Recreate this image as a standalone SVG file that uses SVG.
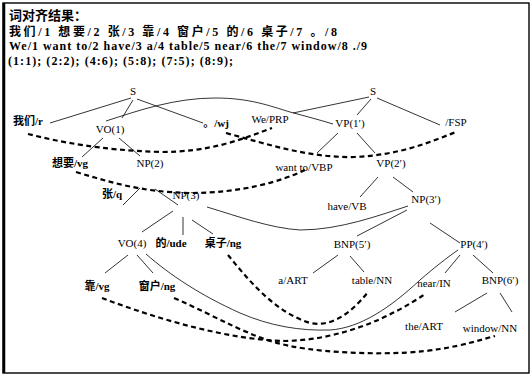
<svg xmlns="http://www.w3.org/2000/svg" width="532" height="376" viewBox="0 0 532 376">
<style>
.bg{fill:#fff}
.frame{fill:none;stroke:#000;stroke-width:1.4}
.h{font-family:"Liberation Serif","Noto Sans CJK SC",serif;font-weight:bold;font-size:12px;fill:#000}
.h1{font-size:13px}
.t{font-family:"Liberation Serif","Noto Sans CJK SC",serif;font-size:11px;fill:#000;text-anchor:middle}
.c{font-weight:bold}
.e{fill:none;stroke:#000;stroke-width:0.8}
.a{fill:none;stroke:#000;stroke-width:2.2;stroke-dasharray:5 3.5}
</style>
<rect class="bg" x="0" y="0" width="532" height="376"/>
<rect class="frame" x="3" y="3" width="526" height="370"/>
<line x1="4" y1="3" x2="4" y2="373" stroke="#000" stroke-width="2.5"/>
<g id="header">
<text class="h h1" x="9" y="20">词对齐结果：</text>
<text class="h" x="9" y="36" textLength="328" lengthAdjust="spacing">我们/1 想要/2 张/3 靠/4 窗户/5 的/6 桌子/7 。/8</text>
<text class="h" x="9" y="50" textLength="358" lengthAdjust="spacing">We/1 want to/2 have/3 a/4 table/5 near/6 the/7 window/8 ./9</text>
<text class="h" x="8" y="65" textLength="225" lengthAdjust="spacing">(1:1); (2:2); (4:6); (5:8); (7:5); (8:9);</text>
</g>
<g id="connectors">
<!-- left tree -->
<line class="e" x1="131" y1="98" x2="50" y2="123"/>
<line class="e" x1="133" y1="100" x2="122" y2="118"/>
<line class="e" x1="137" y1="99" x2="203" y2="123"/>
<line class="e" x1="103" y1="138" x2="82" y2="157"/>
<line class="e" x1="119" y1="138" x2="140" y2="156"/>
<line class="e" x1="140" y1="188" x2="123" y2="205"/>
<line class="e" x1="155" y1="189" x2="178" y2="205"/>
<line class="e" x1="173" y1="211" x2="142" y2="232"/>
<line class="e" x1="183" y1="217" x2="183" y2="235"/>
<line class="e" x1="192" y1="220" x2="213" y2="234"/>
<line class="e" x1="128" y1="255" x2="105" y2="273"/>
<line class="e" x1="137" y1="255" x2="153" y2="273"/>
<!-- right tree -->
<line class="e" x1="369" y1="97" x2="293" y2="113"/>
<line class="e" x1="371" y1="99" x2="357" y2="115"/>
<line class="e" x1="377" y1="98" x2="440" y2="125"/>
<line class="e" x1="338" y1="133" x2="317" y2="153"/>
<line class="e" x1="357" y1="133" x2="375" y2="153"/>
<line class="e" x1="378" y1="177" x2="360" y2="197"/>
<line class="e" x1="393" y1="177" x2="413" y2="192"/>
<line class="e" x1="407" y1="210" x2="357" y2="236"/>
<line class="e" x1="430" y1="223" x2="460" y2="243"/>
<line class="e" x1="338" y1="255" x2="313" y2="273"/>
<line class="e" x1="350" y1="256" x2="364" y2="272"/>
<line class="e" x1="460" y1="255" x2="445" y2="273"/>
<line class="e" x1="473" y1="255" x2="493" y2="273"/>
<line class="e" x1="487" y1="293" x2="455" y2="312"/>
<line class="e" x1="500" y1="293" x2="512" y2="312"/>
<!-- solid cross links -->
<path class="e" d="M106,121 C140,110 175,98 215,98 C250,98 270,106 290,112 C305,116 320,120 333,124"/>
<path class="e" d="M207,207 C240,217 270,228 300,230 C340,230 380,215 408,206"/>
<path class="e" d="M146,254 C170,275 200,295 240,313 C270,326 300,331 330,330 C360,328 390,308 420,280 C435,267 448,257 458,250"/>
<!-- dashed alignments -->
<path class="a" d="M28,134 C60,142 100,150 160,152 C210,152 240,140 272,128"/>
<path class="a" d="M76,172 C110,182 140,192 190,193 C240,193 280,182 305,170"/>
<path class="a" d="M226,133 C270,145 310,158 355,157 C400,155 430,142 456,132"/>
<path class="a" d="M228,255 C250,282 275,312 310,323 C335,328 355,308 368,292"/>
<path class="a" d="M102,298 C160,320 230,340 285,341 C340,340 390,318 425,294"/>
<path class="a" d="M174,298 C220,318 250,338 290,346 C330,354 400,356 440,349 C465,345 480,340 495,336"/>
</g>
<g id="S_zh"><text class="t" x="133" y="95">S</text></g>
<g id="women"><text class="t c" x="28" y="125">我们/r</text></g>
<g id="VO1"><text class="t" x="110" y="133">VO(1)</text></g>
<g id="period"><text class="t c" x="216" y="127">。/wj</text></g>
<g id="xiangyao"><text class="t c" x="70" y="167">想要/vg</text></g>
<g id="NP2"><text class="t" x="150" y="167">NP(2)</text></g>
<g id="zhang"><text class="t c" x="112" y="198">张/q</text></g>
<g id="NP3"><text class="t" x="186" y="199">NP(3)</text></g>
<g id="VO4"><text class="t" x="132" y="247">VO(4)</text></g>
<g id="de"><text class="t c" x="171" y="247">的/ude</text></g>
<g id="zhuozi"><text class="t c" x="223" y="247">桌子/ng</text></g>
<g id="kao"><text class="t c" x="97" y="290">靠/vg</text></g>
<g id="chuanghu"><text class="t c" x="157" y="290">窗户/ng</text></g>
<g id="S_en"><text class="t" x="373" y="95">S</text></g>
<g id="We"><text class="t" x="270" y="123">We/PRP</text></g>
<g id="VP1"><text class="t" x="350" y="127">VP(1′)</text></g>
<g id="FSP"><text class="t" x="456" y="126">/FSP</text></g>
<g id="wantto"><text class="t" x="304" y="171">want to/VBP</text></g>
<g id="VP2"><text class="t" x="391" y="167">VP(2′)</text></g>
<g id="have"><text class="t" x="347" y="210">have/VB</text></g>
<g id="NP3p"><text class="t" x="426" y="203">NP(3′)</text></g>
<g id="BNP5"><text class="t" x="352" y="248">BNP(5′)</text></g>
<g id="PP4"><text class="t" x="474" y="248">PP(4′)</text></g>
<g id="a"><text class="t" x="293" y="284">a/ART</text></g>
<g id="table"><text class="t" x="372" y="284">table/NN</text></g>
<g id="near"><text class="t" x="434" y="287">near/IN</text></g>
<g id="BNP6"><text class="t" x="500" y="284">BNP(6′)</text></g>
<g id="the"><text class="t" x="424" y="330">the/ART</text></g>
<g id="window"><text class="t" x="490" y="332">window/NN</text></g>
</svg>
